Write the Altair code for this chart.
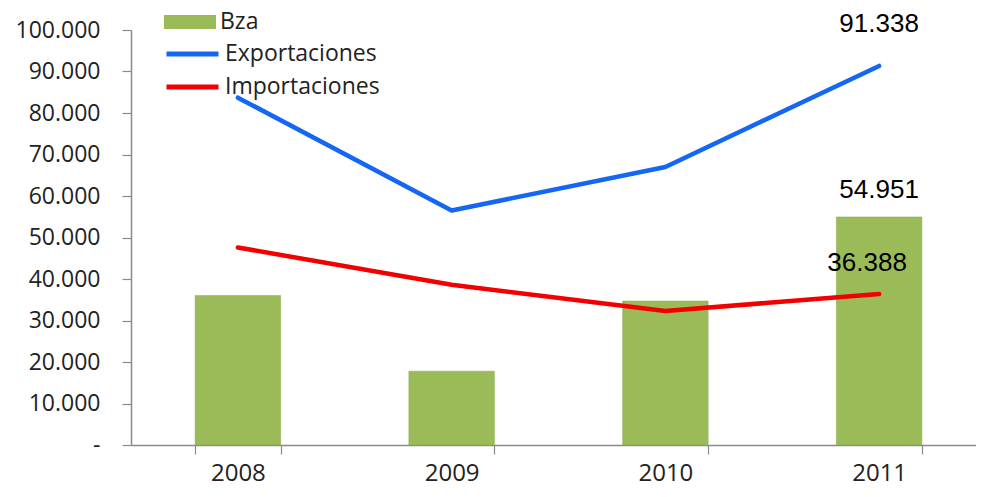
import altair as alt
import pandas as pd

anios = ["2008", "2009", "2010", "2011"]
bza = [36000, 17800, 34700, 54951]
exportaciones = [83700, 56500, 67000, 91338]
importaciones = [47600, 38600, 32300, 36388]

df_bza = pd.DataFrame({"Año": anios, "valor": bza, "serie": "Bza"})
df_lines = pd.concat([
    pd.DataFrame({"Año": anios, "valor": exportaciones, "serie": "Exportaciones"}),
    pd.DataFrame({"Año": anios, "valor": importaciones, "serie": "Importaciones"}),
])

AXIS_FONT = "Open Sans"
GRAY = "#8a8a8a"
TXT = "#222222"
NBSP = "\u00a0"

x_enc = alt.X(
    "Año:N",
    scale=alt.Scale(paddingInner=0.6, paddingOuter=0.3, range=[0, 855]),
    axis=alt.Axis(
        title=None, labelAngle=0, tickBand="extent", tickSize=9,
        domainColor=GRAY, tickColor=GRAY, domainWidth=1.5, tickWidth=1.2,
        labelFont=AXIS_FONT, labelFontSize=24, labelColor=TXT, labelPadding=7,
    ),
)
y_enc = alt.Y(
    "valor:Q",
    scale=alt.Scale(domain=[0, 100000], nice=False),
    axis=alt.Axis(
        title=None, grid=False, values=list(range(0, 100001, 10000)),
        tickSize=9, domainColor=GRAY, tickColor=GRAY, domainWidth=1.5, tickWidth=1.2,
        labelFont=AXIS_FONT, labelFontSize=23, labelColor=TXT, labelPadding=22,
        labelExpr="datum.value == 0 ? '-" + NBSP * 2 + "' : replace(format(datum.value, ','), ',', '.')",
    ),
)

bars = alt.Chart(df_bza).mark_bar(stroke="#8aa84c", strokeWidth=0.5).encode(
    x=x_enc,
    y=y_enc,
    fill=alt.Fill(
        "serie:N",
        scale=alt.Scale(domain=["Bza"], range=["#9BBB59"]),
        legend=alt.Legend(
            title=None, orient="none", legendX=33, legendY=-34, padding=0,
            symbolType="M-1,-0.27L1,-0.27L1,0.27L-1,0.27Z", symbolSize=2704,
            symbolStrokeWidth=0, labelFont=AXIS_FONT, labelFontSize=23,
            labelColor=TXT, labelOffset=4,
        ),
    ),
)

lines = alt.Chart(df_lines).mark_line(strokeWidth=4.5, strokeCap="round", strokeJoin="round").encode(
    x="Año:N",
    y="valor:Q",
    stroke=alt.Stroke(
        "serie:N",
        scale=alt.Scale(domain=["Exportaciones", "Importaciones"], range=["#1466F5", "#F20000"]),
        legend=alt.Legend(
            title=None, orient="none", legendX=33, legendY=10, padding=0,
            clipHeight=28,
            symbolType="stroke", symbolSize=2704, symbolStrokeWidth=5,
            labelFont=AXIS_FONT, labelFontSize=23, labelColor=TXT,
            labelOffset=4, rowPadding=5,
        ),
    ),
)

fmt = "replace(format(datum.valor, ','), ',', '.')"

def label_layer(df, dx, dy):
    return alt.Chart(df).transform_filter(
        "datum['Año'] == '2011'"
    ).transform_calculate(
        etiqueta=fmt
    ).mark_text(
        font="Liberation Sans", fontSize=26, color="#000000", dx=dx, dy=dy
    ).encode(x="Año:N", y="valor:Q", text="etiqueta:N")

df_exp = pd.DataFrame({"Año": anios, "valor": exportaciones})
df_imp = pd.DataFrame({"Año": anios, "valor": importaciones})
df_b = pd.DataFrame({"Año": anios, "valor": bza})

chart = alt.layer(
    bars,
    lines,
    label_layer(df_exp, 0, -42),
    label_layer(df_b, 0, -27),
    label_layer(df_imp, -12, -31),
).resolve_legend(fill="independent", stroke="independent").properties(
    width=845,
    height=415,
    autosize=alt.AutoSizeParams(type="none"),
    padding={"left": 123, "top": 22, "right": 0, "bottom": 44},
    background="white",
).configure_view(stroke=None)

chart.save("out.html", embed_options={"renderer": "svg", "actions": False})
